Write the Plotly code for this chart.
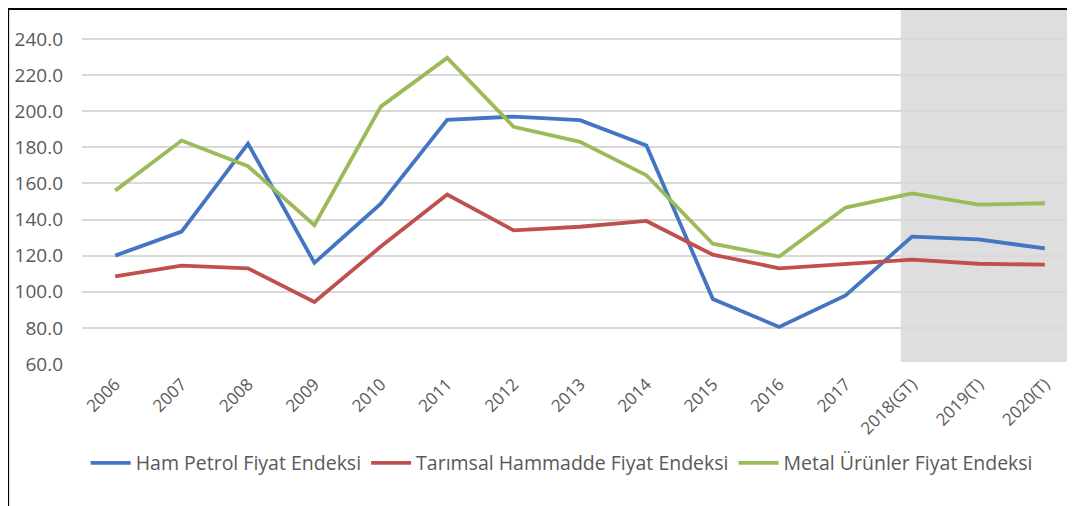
import plotly.graph_objects as go

# Données
years = ["2006", "2007", "2008", "2009", "2010", "2011", "2012", "2013",
         "2014", "2015", "2016", "2017", "2018(GT)", "2019(T)", "2020(T)"]
ham_petrol = [120.0, 133.3, 182.0, 116.0, 148.8, 195.2, 197.0, 195.0,
              181.0, 96.0, 80.5, 98.0, 130.5, 129.0, 124.0]
tarimsal = [108.5, 114.5, 113.0, 94.3, 125.0, 153.8, 134.0, 136.0,
            139.2, 120.5, 113.0, 115.5, 117.8, 115.5, 115.0]
metal = [156.0, 183.7, 169.5, 136.8, 202.5, 229.5, 191.3, 183.0,
         164.5, 126.6, 119.5, 146.6, 154.5, 148.2, 149.0]

series_names = ["Ham Petrol Fiyat Endeksi", "Tarımsal Hammadde Fiyat Endeksi",
                "Metal Ürünler Fiyat Endeksi"]
series_colors = ["#4475C2", "#C0504D", "#9BBB59"]

FONT = "Open Sans, sans-serif"
GREY_TXT = "#595959"

fig = go.Figure()
for name, vals, col in zip(series_names, [ham_petrol, tarimsal, metal], series_colors):
    fig.add_trace(go.Scatter(
        x=years, y=vals, name=name, mode="lines",
        line=dict(color=col, width=3.8),
    ))

# bande grise des prévisions
fig.add_shape(type="rect", xref="x", yref="y domain",
              x0=11.83, x1=14.6, y0=0.006, y1=1,
              fillcolor="#DEDEDE", line_width=0, layer="below")

# cadre noir (gauche + haut)
fig.add_shape(type="line", xref="paper", yref="paper",
              x0=-0.075, x1=-0.075, y0=1.0028, y1=-0.45,
              line=dict(color="black", width=2))
fig.add_shape(type="line", xref="paper", yref="paper",
              x0=-0.076, x1=1.01, y0=1.0028, y1=1.0028,
              line=dict(color="black", width=2))

fig.update_layout(
    width=1059, height=498,
    margin=dict(l=74, r=0, t=2, b=142),
    paper_bgcolor="white", plot_bgcolor="white",
    font=dict(family=FONT, color=GREY_TXT, size=17),
    showlegend=True,
    legend=dict(
        orientation="h", x=0.487, xanchor="center", y=-0.28, yanchor="middle",
        font=dict(size=19.5, color=GREY_TXT), itemwidth=40,
        bgcolor="rgba(0,0,0,0)",
    ),
    xaxis=dict(
        type="category", range=[-0.5, 14.334], tickangle=-45,
        showgrid=False, zeroline=False, showline=False,
        tickfont=dict(size=17, color=GREY_TXT), ticklabelstandoff=6,
    ),
    yaxis=dict(
        range=[60, 256], dtick=20, tick0=60, tickformat=".1f",
        gridcolor="#D9D9D9", gridwidth=2, zeroline=False, showline=False,
        tickfont=dict(size=19, color=GREY_TXT), ticklabelstandoff=18,
    ),
)

fig.write_html("out.html")
